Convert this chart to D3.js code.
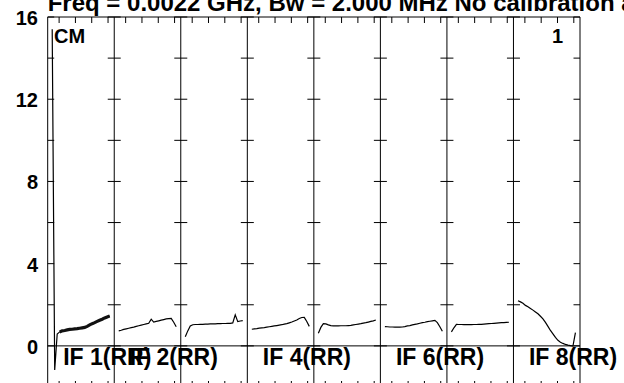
<!DOCTYPE html>
<html><head><meta charset="utf-8">
<script src="https://cdn.jsdelivr.net/npm/d3@7"></script>
<style>html,body{margin:0;padding:0;background:#fff;overflow:hidden}</style>
</head><body>
<script>
// ---- data ----
const titleText = "Freq = 0.0022 GHz, Bw = 2.000 MHz   No calibration applied";
const panelLabels = ["IF 1(RR)", "IF 2(RR)", "", "IF 4(RR)", "", "IF 6(RR)", "", "IF 8(RR)"];
const yTickValues = [0, 2, 4, 6, 8, 10, 12, 14, 16];
const yTickLabels = ["0", "", "4", "", "8", "", "12", "", "16"];
const xTickValues = [0, 1, 2, 3];
const panel1 = [15.4, -1.17, 0.58, 0.68, 0.73, 0.75, 0.78, 0.80, 0.81, 0.83, 0.84, 0.86, 0.88, 0.90, 0.95, 1.02, 1.08, 1.13, 1.19, 1.25, 1.30, 1.36, 1.41, 1.45];
const panel2 = [0.73, 0.76, 0.80, 0.83, 0.86, 0.89, 0.91, 0.95, 0.98, 1.01, 1.04, 1.07, 1.10, 1.30, 1.16, 1.19, 1.22, 1.25, 1.28, 1.31, 1.33, 1.34, 1.15, 0.93];
const panel3 = [0.44, 0.73, 0.97, 1.03, 1.04, 1.04, 1.05, 1.05, 1.06, 1.06, 1.07, 1.07, 1.07, 1.08, 1.08, 1.09, 1.09, 1.10, 1.10, 1.12, 1.51, 1.18, 1.21, 1.23];
const panel4 = [0.81, 0.83, 0.84, 0.86, 0.88, 0.89, 0.91, 0.93, 0.95, 0.97, 0.99, 1.01, 1.03, 1.06, 1.08, 1.12, 1.16, 1.21, 1.26, 1.33, 1.38, 1.39, 1.19, 0.95];
const panel5 = [0.62, 0.90, 1.08, 1.07, 1.02, 0.99, 0.97, 0.97, 0.97, 0.98, 0.98, 0.98, 0.99, 1.00, 1.02, 1.04, 1.06, 1.08, 1.11, 1.13, 1.16, 1.19, 1.22, 1.26];
const panel6 = [0.94, 0.93, 0.92, 0.92, 0.91, 0.91, 0.91, 0.92, 0.94, 0.97, 0.99, 1.02, 1.05, 1.07, 1.10, 1.13, 1.15, 1.18, 1.20, 1.22, 1.24, 1.13, 0.93, 0.71];
const panel7 = [0.68, 0.88, 1.05, 1.04, 1.04, 1.03, 1.03, 1.03, 1.03, 1.04, 1.04, 1.05, 1.05, 1.06, 1.07, 1.08, 1.09, 1.10, 1.11, 1.12, 1.13, 1.13, 1.14, 1.15];
const panel8 = [2.20, 2.14, 2.07, 1.97, 1.90, 1.82, 1.74, 1.65, 1.56, 1.44, 1.31, 1.14, 0.95, 0.75, 0.58, 0.41, 0.27, 0.18, 0.12, 0.07, 0.04, 0.015, -0.01, 0.65];
const panels = [panel1, panel2, panel3, panel4, panel5, panel6, panel7, panel8];

// ---- layout ----
const W = 624, H = 383;
const L = 47.7, R = 580, T = 17, B = 387;
const svg = d3.select("body").append("svg").attr("width", W).attr("height", H)
  .style("font-family", "'Liberation Sans', Arial, sans-serif").style("font-weight", "bold");

const y = d3.scaleLinear().domain([-2, 16]).range([B, T]);
const panelEdge = d3.scaleLinear().domain([0, panels.length]).range([L, R]);
const unitDomain = [-0.7, 3.38];
const chanPos = d3.scaleLinear().domain([0, 23]).range([-0.424, 3.10]);
const px = i => d3.scaleLinear().domain(unitDomain).range([panelEdge(i), panelEdge(i + 1)]);

// title
svg.append("text").attr("x", L).attr("y", 11).attr("font-size", 24).text(titleText);

// panel labels (drawn before frame so dividers pass over them)
svg.append("g").selectAll("text").data(panelLabels).join("text")
  .attr("x", (d, i) => panelEdge(i) + 15.5).attr("y", 365)
  .attr("font-size", 23).text(d => d);

// data lines
panels.forEach((vals, i) => {
  const xs = px(i);
  const line = d3.line().x((d, j) => xs(chanPos(j))).y(d => y(d));
  svg.append("path").datum(vals).attr("d", line).attr("fill", "none")
    .attr("stroke", "#000").attr("stroke-width", 1.2);
  if (i === 0) {
    const line2 = d3.line().x(d => xs(chanPos(d[0]))).y(d => y(d[1]));
    svg.append("path").datum(vals.map((v, j) => [j, v]).slice(3)).attr("d", line2)
      .attr("fill", "none").attr("stroke", "#111").attr("stroke-width", 3.2);
  }
});

// frame
const frame = svg.append("g").attr("stroke", "#000").attr("fill", "none").attr("stroke-width", 1);
frame.append("line").attr("x1", L).attr("x2", R).attr("y1", T).attr("y2", T);
frame.append("line").attr("x1", L).attr("x2", R).attr("y1", B).attr("y2", B);
frame.append("line").attr("x1", L).attr("x2", R).attr("y1", y(0)).attr("y2", y(0));
d3.range(panels.length + 1).forEach(k => {
  const xe = panelEdge(k);
  frame.append("line").attr("x1", xe).attr("x2", xe).attr("y1", T).attr("y2", B);
  const left = k === 0 ? 0 : 6.5, right = k === panels.length ? 0 : 6.5;
  yTickValues.forEach(v => {
    frame.append("line").attr("x1", xe - left).attr("x2", xe + right)
      .attr("y1", y(v)).attr("y2", y(v));
  });
});
panels.forEach((vals, i) => {
  const xs = px(i);
  xTickValues.forEach(t => {
    frame.append("line").attr("x1", xs(t)).attr("x2", xs(t)).attr("y1", T).attr("y2", T + 6);
    frame.append("line").attr("x1", xs(t)).attr("x2", xs(t)).attr("y1", B - 6).attr("y2", B);
  });
});

// y labels
svg.append("g").selectAll("text").data(yTickValues).join("text")
  .attr("x", 38).attr("y", d => y(d) + 1).attr("text-anchor", "end")
  .attr("dominant-baseline", "central").attr("font-size", 20)
  .text((d, i) => yTickLabels[i]);

// corner labels
svg.append("text").attr("x", 54).attr("y", 42.5).attr("font-size", 20).text("CM");
svg.append("text").attr("x", 563).attr("y", 42.5).attr("font-size", 20).attr("text-anchor", "end").text("1");
</script>
</body></html>
